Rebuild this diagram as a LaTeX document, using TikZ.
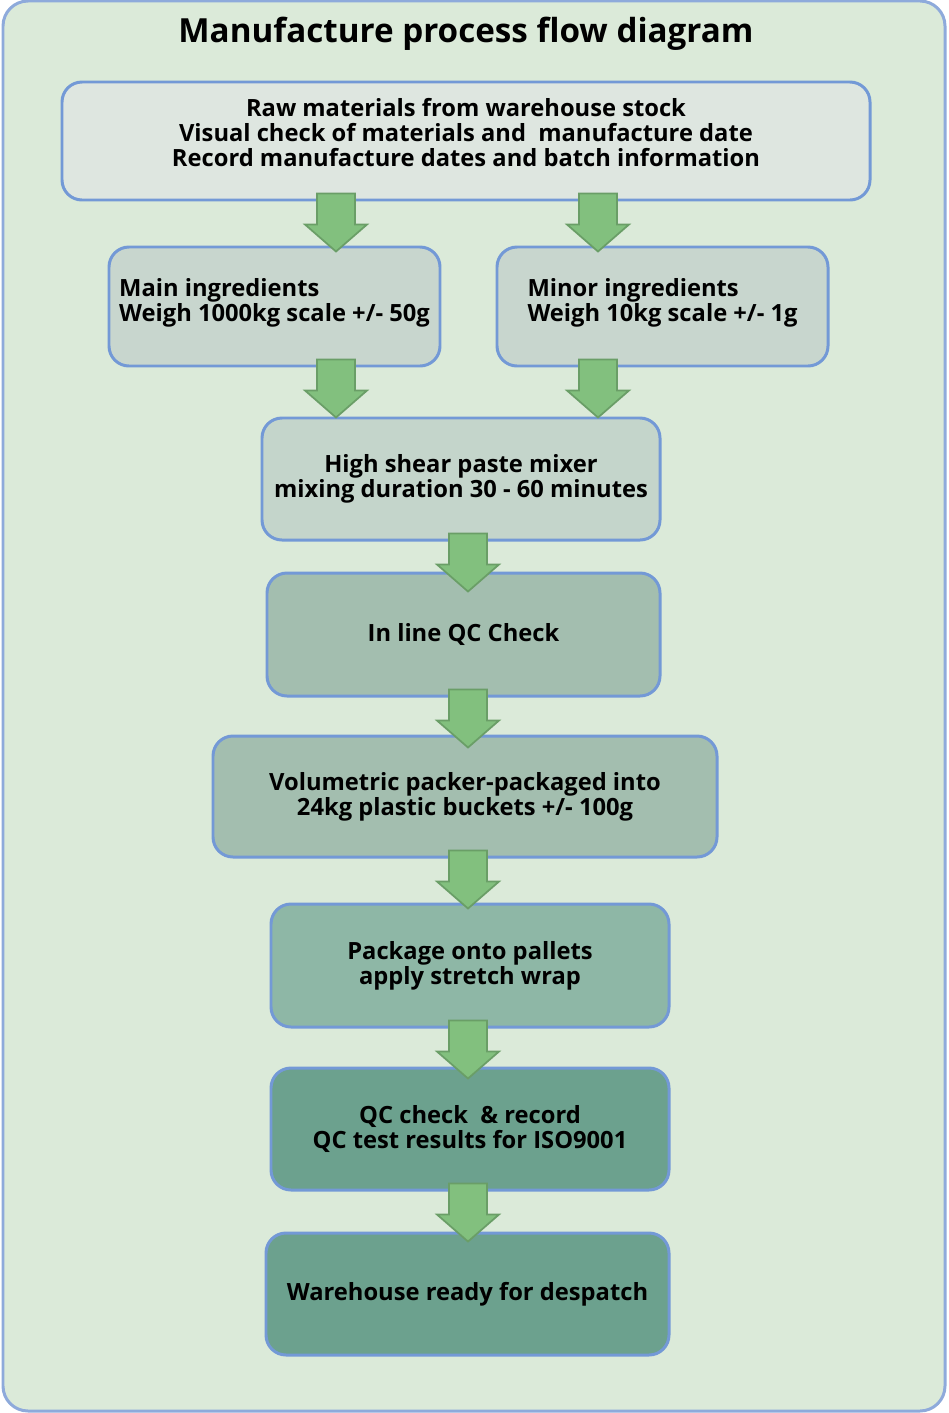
\documentclass[tikz,border=0pt]{standalone}
\usepackage{fontspec}
\setmainfont{Open Sans}
\usetikzlibrary{calc}

\definecolor{framefill}{HTML}{DBEAD9}
\definecolor{frameline}{HTML}{8EAADB}
\definecolor{boxline}{HTML}{7399D6}
\definecolor{arrowfill}{HTML}{82C07E}
\definecolor{arrowline}{HTML}{6A9E67}
\definecolor{rawfill}{HTML}{DEE6E0}
\definecolor{weighfill}{HTML}{C8D6CE}
\definecolor{mixfill}{HTML}{C4D5CB}
\definecolor{checkfill}{HTML}{A3BEAF}
\definecolor{palletfill}{HTML}{8EB7A6}
\definecolor{qcfill}{HTML}{6CA18E}

\newcommand{\boxfont}{\fontsize{13.5}{14.2}\selectfont\bfseries}

\begin{document}
\begin{tikzpicture}[x=0.02cm, y=-0.02cm,
    stage/.style={draw=boxline, line width=1.7pt, rounded corners=0.4cm,
                  align=center, font=\boxfont, inner sep=0pt},
    blockarrow/.style={draw=arrowline, fill=arrowfill, line width=1pt}]
    \newcommand{\px}{0.02cm}
    % block arrow: x position, from node, to node
    \newcommand{\flowarrow}[3]{%
        \coordinate (ax) at (#1,0);
        \coordinate (s) at ($(#2.south -| ax)+(0,-8)$);
        \coordinate (t) at ($(s)!58*\px!(#3.north -| ax)$);
        \draw[blockarrow] ($(s)+(-19,0)$) -- ($(s)+(19,0)$) -- ($(t)+(19,-27)$)
            -- ($(t)+(31,-27)$) -- (t) -- ($(t)+(-31,-27)$) -- ($(t)+(-19,-27)$) -- cycle;
    }

    \useasboundingbox (0,0) rectangle (948,1413);

    % frame
    \draw[fill=framefill, draw=frameline, line width=1.7pt, rounded corners=0.5cm]
        (3,1) rectangle (945,1411);
    \node (title) at (466,34) {\fontsize{18.9}{22}\selectfont\bfseries Manufacture process flow diagram};

    % stages
    \node[stage, fill=rawfill, minimum width=808*\px, minimum height=118*\px, text depth=10pt] (raw) at (466,141)
        {Raw materials from warehouse stock\\
         Visual check of materials and \ manufacture date\\
         Record manufacture dates and batch information};
    \node[stage, fill=weighfill, minimum width=331*\px, minimum height=119*\px, align=left, text depth=7.5pt] (main) at (274.5,306.5)
        {Main ingredients\\ Weigh 1000kg scale +/- 50g};
    \node[stage, fill=weighfill, minimum width=331*\px, minimum height=119*\px, align=left, text depth=7.5pt] (minor) at (662.5,306.5)
        {Minor ingredients\\ Weigh 10kg scale +/- 1g};
    \node[stage, fill=mixfill, minimum width=398*\px, minimum height=122*\px] (mixer) at (461,479)
        {High shear paste mixer\\ mixing duration 30 - 60 minutes};
    \node[stage, fill=checkfill, minimum width=393*\px, minimum height=123*\px] (inline) at (463.5,634.5)
        {In line QC Check};
    \node[stage, fill=checkfill, minimum width=504*\px, minimum height=121*\px] (packer) at (465,796.5)
        {Volumetric packer-packaged into\\ 24kg plastic buckets +/- 100g};
    \node[stage, fill=palletfill, minimum width=398*\px, minimum height=123*\px] (pallets) at (470,965.5)
        {Package onto pallets\\ apply stretch wrap};
    \node[stage, fill=qcfill, minimum width=398*\px, minimum height=122*\px] (record) at (470,1129)
        {QC check \ \& record\\ QC test results for ISO9001};
    \node[stage, fill=qcfill, minimum width=403*\px, minimum height=122*\px] (despatch) at (467.5,1294)
        {Warehouse ready for despatch};

    % arrows
    \flowarrow{336}{raw}{main}
    \flowarrow{598}{raw}{minor}
    \flowarrow{336}{main}{mixer}
    \flowarrow{598}{minor}{mixer}
    \flowarrow{468}{mixer}{inline}
    \flowarrow{468}{inline}{packer}
    \flowarrow{468}{packer}{pallets}
    \flowarrow{468}{pallets}{record}
    \flowarrow{468}{record}{despatch}
\end{tikzpicture}
\end{document}
